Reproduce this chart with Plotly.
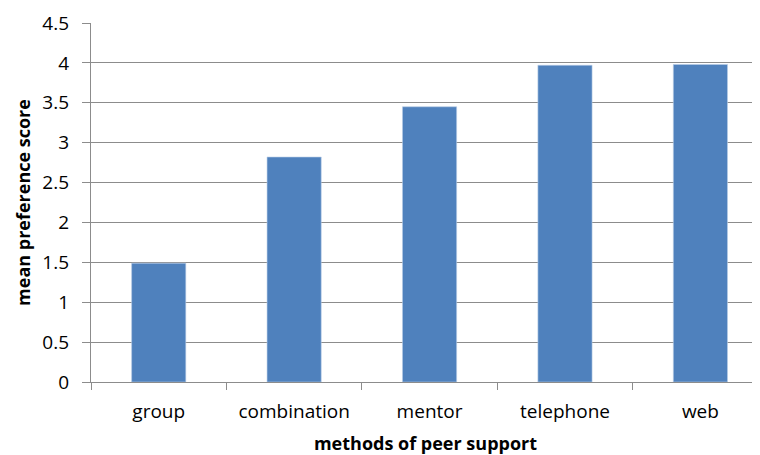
import plotly.graph_objects as go

categories = ["group", "combination", "mentor", "telephone", "web"]
values = [1.49, 2.82, 3.45, 3.97, 3.98]
y_ticks = [0, 0.5, 1, 1.5, 2, 2.5, 3, 3.5, 4, 4.5]
y_tick_labels = ["0", "0.5", "1", "1.5", "2", "2.5", "3", "3.5", "4", "4.5"]

FONT = "Open Sans"
GRID = "#8c8c8c"

fig = go.Figure(
    go.Bar(
        x=categories,
        y=values,
        width=0.4,
        marker=dict(color="#4F81BD", line=dict(color="#B9CDE5", width=0.6)),
    )
)

# page body has an 8px default margin, so the figure is sized to fit the window
fig.update_layout(
    width=752,
    height=447,
    margin=dict(l=83, r=0, t=15, b=73, autoexpand=False),
    paper_bgcolor="white",
    plot_bgcolor="white",
    showlegend=False,
    font=dict(family=FONT, size=19, color="#000000"),
)

fig.update_xaxes(
    range=[-0.5, 4.44],
    showline=True,
    linecolor=GRID,
    linewidth=1.3,
    ticks="outside",
    tickson="boundaries",
    ticklen=7,
    tickcolor=GRID,
    tickwidth=1.3,
    showgrid=False,
    tickfont=dict(family=FONT, size=19),
    ticklabelstandoff=12,
    title=dict(text="<b>methods of peer support</b>", font=dict(family=FONT, size=18), standoff=20),
    automargin=False,
)

fig.update_yaxes(
    range=[0, 4.5],
    tickvals=y_ticks,
    ticktext=y_tick_labels,
    showline=True,
    linecolor=GRID,
    linewidth=1.3,
    ticks="outside",
    ticklen=8,
    tickcolor=GRID,
    tickwidth=1.3,
    showgrid=True,
    gridcolor=GRID,
    gridwidth=1.3,
    zeroline=False,
    tickfont=dict(family=FONT, size=19),
    ticklabelstandoff=9,
    title=dict(text="<b>mean preference score</b>", font=dict(family=FONT, size=18), standoff=7),
    automargin=False,
)

fig.write_html("out.html")
